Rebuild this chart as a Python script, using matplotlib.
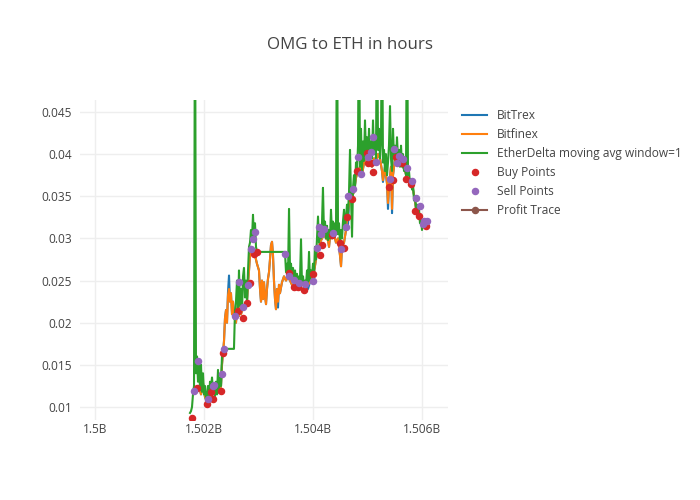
import matplotlib.pyplot as plt
import numpy as np
from matplotlib.ticker import FuncFormatter, MultipleLocator

plt.rcParams['font.family'] = ['Open Sans', 'DejaVu Sans']

# times are in millions of seconds (unix time / 1e6)
bitfinex_time = [
    1501.872, 1501.908, 1501.945, 1501.982, 1502.018, 1502.055, 1502.092, 1502.128, 1502.165, 1502.202,
    1502.239, 1502.275, 1502.312, 1502.330, 1502.349, 1502.367, 1502.385, 1502.404, 1502.422, 1502.440,
    1502.459, 1502.477, 1502.495, 1502.514, 1502.532, 1502.550, 1502.569, 1502.587, 1502.606, 1502.624,
    1502.642, 1502.661, 1502.679, 1502.716, 1502.752, 1502.789, 1502.807, 1502.826, 1502.844, 1502.862,
    1502.881, 1502.899, 1502.936, 1502.972, 1503.009, 1503.028, 1503.046, 1503.064, 1503.083, 1503.101,
    1503.119, 1503.138, 1503.156, 1503.174, 1503.193, 1503.211, 1503.229, 1503.248, 1503.266, 1503.284,
    1503.303, 1503.321, 1503.339, 1503.358, 1503.376, 1503.394, 1503.431, 1503.468, 1503.505, 1503.541,
    1503.578, 1503.615, 1503.651, 1503.688, 1503.725, 1503.761, 1503.798, 1503.835, 1503.872, 1503.908,
    1503.945, 1503.982, 1504.018, 1504.055, 1504.073, 1504.092, 1504.128, 1504.165, 1504.202, 1504.239,
    1504.275, 1504.294, 1504.312, 1504.349, 1504.385, 1504.422, 1504.459, 1504.495, 1504.514, 1504.532,
    1504.569, 1504.606, 1504.624, 1504.642, 1504.661, 1504.679, 1504.716, 1504.752, 1504.789, 1504.826,
    1504.862, 1504.899, 1504.936, 1504.972, 1505.009, 1505.046, 1505.083, 1505.119, 1505.156, 1505.193,
    1505.229, 1505.266, 1505.284, 1505.321, 1505.358, 1505.376, 1505.394, 1505.431, 1505.450, 1505.468,
    1505.505, 1505.541, 1505.578, 1505.615, 1505.651, 1505.688, 1505.725, 1505.761, 1505.798, 1505.835,
    1505.872, 1505.890, 1505.927, 1505.963, 1506.000, 1506.037, 1506.073, 1506.092,
]
bitfinex_price = [
    .0118, .0125, .0115, .0128, .0112, .0106, .0118, .0113, .0125, .0115,
    .0121, .0117, .0125, .0150, .0165, .0178, .0205, .0215, .0200, .0232,
    .0240, .0225, .0235, .0210, .0225, .0205, .0212, .0200, .0215, .0222,
    .0208, .0225, .0210, .0218, .0222, .0225, .0245, .0262, .0280, .0290,
    .0288, .0285, .0280, .0270, .0262, .0240, .0225, .0250, .0228, .0248,
    .0232, .0222, .0240, .0252, .0260, .0275, .0292, .0296, .0280, .0250,
    .0228, .0216, .0240, .0225, .0245, .0235, .0248, .0255, .0250, .0255,
    .0250, .0245, .0240, .0247, .0242, .0244, .0238, .0240, .0246, .0245,
    .0248, .0255, .0260, .0275, .0288, .0285, .0295, .0300, .0305, .0300,
    .0298, .0290, .0302, .0300, .0305, .0295, .0300, .0280, .0267, .0290,
    .0295, .0310, .0322, .0332, .0342, .0345, .0350, .0355, .0372, .0380,
    .0385, .0375, .0390, .0398, .0395, .0390, .0385, .0395, .0390, .0400,
    .0395, .0380, .0369, .0385, .0365, .0342, .0360, .0385, .0335, .0375,
    .0395, .0390, .0392, .0388, .0385, .0380, .0372, .0370, .0362, .0358,
    .0345, .0335, .0330, .0325, .0320, .0315, .0318, .0320,
]
bittrex_time = bitfinex_time
bittrex_price = [
    .0118, .0125, .0115, .0128, .0112, .0106, .0118, .0113, .0125, .0115,
    .0121, .0117, .0125, .0150, .0165, .0178, .0205, .0215, .0200, .0236,
    .0256, .0225, .0235, .0210, .0225, .0205, .0212, .0200, .0215, .0222,
    .0208, .0225, .0210, .0218, .0222, .0225, .0245, .0262, .0280, .0290,
    .0288, .0285, .0280, .0270, .0262, .0240, .0225, .0250, .0228, .0248,
    .0232, .0222, .0240, .0252, .0260, .0275, .0292, .0296, .0280, .0250,
    .0228, .0216, .0240, .0218, .0245, .0235, .0248, .0255, .0250, .0255,
    .0250, .0245, .0240, .0247, .0242, .0244, .0238, .0240, .0246, .0240,
    .0248, .0255, .0260, .0275, .0288, .0285, .0295, .0300, .0305, .0300,
    .0298, .0290, .0302, .0300, .0305, .0295, .0300, .0280, .0267, .0290,
    .0295, .0310, .0322, .0315, .0342, .0345, .0350, .0355, .0372, .0380,
    .0385, .0375, .0390, .0398, .0395, .0390, .0385, .0395, .0390, .0400,
    .0395, .0380, .0367, .0385, .0365, .0335, .0360, .0385, .0330, .0375,
    .0395, .0390, .0392, .0388, .0385, .0380, .0372, .0370, .0362, .0358,
    .0345, .0335, .0330, .0325, .0320, .0315, .0318, .0320,
]

etherdelta_time = [
    1501.743, 1501.761, 1501.780, 1501.798, 1501.817, 1501.835, 1501.853, 1501.872, 1501.890, 1501.908,
    1501.927, 1501.945, 1501.963, 1501.982, 1502.000, 1502.018, 1502.037, 1502.055, 1502.073, 1502.092,
    1502.110, 1502.128, 1502.147, 1502.165, 1502.183, 1502.202, 1502.220, 1502.239, 1502.257, 1502.275,
    1502.294, 1502.312, 1502.330, 1502.349, 1502.550, 1502.569, 1502.587, 1502.606, 1502.624, 1502.642,
    1502.661, 1502.679, 1502.697, 1502.716, 1502.734, 1502.752, 1502.771, 1502.789, 1502.807, 1502.826,
    1502.844, 1502.862, 1502.881, 1502.899, 1502.917, 1502.936, 1502.954, 1502.972, 1503.486, 1503.505,
    1503.523, 1503.541, 1503.560, 1503.578, 1503.596, 1503.615, 1503.633, 1503.651, 1503.670, 1503.688,
    1503.706, 1503.725, 1503.743, 1503.761, 1503.780, 1503.798, 1503.817, 1503.835, 1503.853, 1503.872,
    1503.890, 1503.908, 1503.927, 1503.945, 1503.963, 1503.982, 1504.000, 1504.018, 1504.037, 1504.055,
    1504.073, 1504.092, 1504.110, 1504.128, 1504.147, 1504.165, 1504.183, 1504.202, 1504.220, 1504.239,
    1504.257, 1504.275, 1504.294, 1504.312, 1504.330, 1504.349, 1504.367, 1504.385, 1504.404, 1504.422,
    1504.440, 1504.459, 1504.477, 1504.495, 1504.514, 1504.532, 1504.550, 1504.569, 1504.587, 1504.606,
    1504.624, 1504.642, 1504.661, 1504.679, 1504.697, 1504.716, 1504.734, 1504.752, 1504.771, 1504.789,
    1504.807, 1504.826, 1504.844, 1504.862, 1504.881, 1504.899, 1504.917, 1504.936, 1504.954, 1504.972,
    1504.991, 1505.009, 1505.028, 1505.046, 1505.064, 1505.083, 1505.101, 1505.119, 1505.138, 1505.156,
    1505.174, 1505.193, 1505.211, 1505.229, 1505.248, 1505.266, 1505.284, 1505.303, 1505.321, 1505.339,
    1505.358, 1505.376, 1505.394, 1505.413, 1505.431, 1505.450, 1505.468, 1505.486, 1505.505, 1505.523,
    1505.541, 1505.560, 1505.578, 1505.596, 1505.615, 1505.633, 1505.651, 1505.670, 1505.688, 1505.706,
    1505.725, 1505.743, 1505.761, 1505.780, 1505.798, 1505.817, 1505.835, 1505.853, 1505.872, 1505.890,
    1505.908, 1505.927, 1505.945, 1505.963, 1505.982, 1506.000, 1506.018, 1506.037, 1506.055, 1506.073,
    1506.092,
]
etherdelta_price = [
    .0093, .0095, .0100, .0115, .0125, .0650, .0140, .0160, .0130, .0155,
    .0120, .0150, .0118, .0140, .0115, .0125, .0108, .0112, .0125, .0110,
    .0130, .0122, .0135, .0120, .0128, .0113, .0130, .0115, .0144, .0120,
    .0135, .0125, .0160, .0169, .0169, .0215, .0225, .0250, .0215, .0262,
    .0220, .0240, .0215, .0255, .0265, .0230, .0250, .0225, .0260, .0290,
    .0295, .0310, .0300, .0328, .0300, .0318, .0290, .0284, .0284, .0260,
    .0270, .0255, .0335, .0262, .0270, .0255, .0265, .0250, .0262, .0248,
    .0258, .0245, .0255, .0250, .0299, .0245, .0255, .0242, .0250, .0245,
    .0262, .0248, .0284, .0250, .0262, .0255, .0270, .0258, .0290, .0275,
    .0300, .0326, .0295, .0312, .0300, .0318, .0360, .0305, .0320, .0300,
    .0315, .0298, .0310, .0300, .0334, .0305, .0320, .0302, .0318, .0305,
    .0600, .0305, .0318, .0295, .0310, .0300, .0320, .0334, .0310, .0325,
    .0340, .0330, .0355, .0405, .0350, .0302, .0360, .0375, .0360, .0390,
    .0380, .0410, .0600, .0385, .0430, .0380, .0415, .0392, .0440, .0400,
    .0420, .0395, .0430, .0390, .0415, .0395, .0440, .0400, .0420, .0395,
    .0600, .0405, .0430, .0395, .0415, .0600, .0390, .0405, .0380, .0400,
    .0375, .0390, .0410, .0457, .0395, .0380, .0430, .0395, .0410, .0390,
    .0420, .0395, .0405, .0385, .0410, .0385, .0400, .0380, .0395, .0375,
    .0600, .0375, .0380, .0365, .0370, .0358, .0365, .0345, .0350, .0335,
    .0340, .0325, .0335, .0318, .0322, .0310, .0320, .0315, .0322, .0318,
    .0322,
]

buy_time = [
    1501.780, 1501.866, 1502.061, 1502.134, 1502.171, 1502.312, 1502.343, 1502.629, 1502.710, 1502.783,
    1502.844, 1502.923, 1502.978, 1503.560, 1503.651, 1503.730, 1503.844, 1504.006, 1504.128, 1504.171,
    1504.354, 1504.501, 1504.575, 1504.624, 1504.716, 1504.813, 1504.985, 1505.015, 1505.059, 1505.107,
    1505.400, 1505.462, 1505.517, 1505.628, 1505.707, 1505.804, 1505.872, 1505.951, 1506.073,
]
buy_price = [
    .0087, .0122, .0104, .0118, .0110, .0119, .0164, .0214, .0206, .0223,
    .0247, .0282, .0284, .0259, .0242, .0242, .0239, .0258, .0280, .0292,
    .0304, .0295, .0289, .0325, .0347, .0380, .0401, .0389, .0389, .0379,
    .0361, .0369, .0397, .0390, .0370, .0364, .0333, .0327, .0315,
]

sell_time = [
    1501.817, 1501.890, 1502.068, 1502.160, 1502.183, 1502.330, 1502.362, 1502.569, 1502.637, 1502.716,
    1502.813, 1502.862, 1502.905, 1502.936, 1503.486, 1503.560, 1503.657, 1503.743, 1503.847, 1504.006,
    1504.067, 1504.116, 1504.141, 1504.202, 1504.373, 1504.514, 1504.606, 1504.642, 1504.728, 1504.820,
    1504.887, 1505.015, 1505.070, 1505.107, 1505.156, 1505.413, 1505.492, 1505.536, 1505.584, 1505.657,
    1505.731, 1505.823, 1505.884, 1505.963, 1506.013, 1506.037, 1506.086,
]
sell_price = [
    .0119, .0155, .0109, .0125, .0126, .0139, .0169, .0208, .0248, .0219,
    .0245, .0288, .0299, .0308, .0281, .0255, .0251, .0247, .0246, .0249,
    .0289, .0314, .0305, .0311, .0306, .0287, .0314, .0350, .0359, .0396,
    .0377, .0397, .0402, .0420, .0391, .0370, .0406, .0390, .0398, .0394,
    .0384, .0368, .0348, .0338, .0317, .0321, .0321,
]

# profit trace has no visible points on this axis
profit_time = []
profit_value = []

x_ticks = [1.5e9, 1.502e9, 1.504e9, 1.506e9]

sec = lambda ms: np.array(ms) * 1e6

fig = plt.figure(figsize=(7, 5), dpi=100)
ax = fig.add_axes([80 / 700, 80 / 500, 368 / 700, 320 / 500])

ax.plot(sec(bittrex_time), bittrex_price, color='#1f77b4', lw=1.5, label='BitTrex')
ax.plot(sec(bitfinex_time), bitfinex_price, color='#ff7f0e', lw=1.5, label='Bitfinex')
ax.plot(sec(etherdelta_time), etherdelta_price, color='#2ca02c', lw=1.5,
        label='EtherDelta moving avg window=1')
ax.plot(sec(buy_time), buy_price, ls='none', marker='o', ms=4.4, color='#d62728',
        label='Buy Points')
ax.plot(sec(sell_time), sell_price, ls='none', marker='o', ms=4.4, color='#9467bd',
        label='Sell Points')
ax.plot(sec(profit_time), profit_value, color='#8c564b', lw=1.5, marker='o', ms=4.4,
        label='Profit Trace')

ax.set_xlim(1.499725e9, 1.506477e9)
ax.set_ylim(0.00846, 0.04642)
ax.set_xticks(x_ticks)
ax.xaxis.set_major_formatter(FuncFormatter(lambda v, p: f'{v / 1e9:g}B'))
ax.yaxis.set_major_locator(MultipleLocator(0.005))
ax.yaxis.set_major_formatter(FuncFormatter(lambda v, p: f'{v:g}'))
ax.grid(True, color='#eeeeee', lw=1)
ax.set_axisbelow(True)
for s in ax.spines.values():
    s.set_visible(False)
ax.tick_params(axis='y', length=0, labelsize=8.6, labelcolor='#444444', pad=6)
ax.tick_params(axis='x', length=0, labelsize=8.6, labelcolor='#444444', pad=2)

fig.text(0.5, 0.91, 'OMG to ETH in hours', ha='center', va='center',
         fontsize=12.2, color='#444444')

leg = ax.legend(loc='upper left', bbox_to_anchor=(462 / 700, 1 - 109 / 500),
                bbox_transform=fig.transFigure, frameon=False, fontsize=8.6,
                handlelength=2.1, handletextpad=0.8, labelspacing=0.5,
                borderpad=0, borderaxespad=0, numpoints=1)
for t in leg.get_texts():
    t.set_color('#444444')

fig.savefig('out.png', dpi=100)
